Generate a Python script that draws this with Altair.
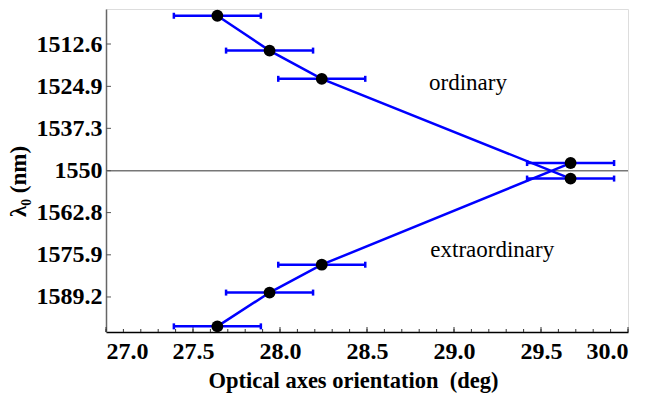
import altair as alt
import pandas as pd
import numpy as np

C = 299792.458  # nm*THz

# ---- data ----
ord_x = [27.64, 27.94, 28.24, 29.67]
ord_lam = [1504.5, 1514.5, 1522.7, 1552.4]
ord_err = [0.25, 0.25, 0.25, 0.25]

ext_x = [29.67, 28.24, 27.94, 27.64]
ext_lam = [1547.7, 1579.0, 1587.8, 1598.6]
ext_err = [0.25, 0.25, 0.25, 0.25]

y_tick_lam = [1512.6, 1524.9, 1537.3, 1550, 1562.8, 1575.9, 1589.2]
x_major = [27.0, 27.5, 28.0, 28.5, 29.0, 29.5, 30.0]
x_minor = [round(v, 1) for v in np.arange(27.0, 30.0001, 0.1)]

ref_lam = [1550]
label_text = ["ordinary", "extraordinary"]
label_x = [29.08, 29.22]
label_lam = [1523.9, 1574.5]

# ---- tables ----
rows = []
for i, (x, l, e) in enumerate(zip(ord_x, ord_lam, ord_err)):
    rows.append({"series": "ordinary", "x": x, "lam": l, "err": e, "o": i})
for i, (x, l, e) in enumerate(zip(ext_x, ext_lam, ext_err)):
    rows.append({"series": "extraordinary", "x": x, "lam": l, "err": e, "o": i})
df = pd.DataFrame(rows)

y_tick_freq = [C / v for v in y_tick_lam]
f_top = 199.519
f_bot = 187.321

W, H = 522, 323
FONT = "Liberation Serif, 'Times New Roman', Times, serif"

xs = alt.Scale(domain=[27.0, 30.0], nice=False, zero=False)
ys = alt.Scale(domain=[f_bot, f_top], nice=False, zero=False)

BLUE = "#0000ff"

base = alt.Chart(df).transform_calculate(
    f=f"{C}/datum.lam", xlo="datum.x - datum.err", xhi="datum.x + datum.err"
)

xaxis = alt.Axis(
    values=x_major, format=".1f", ticks=False, grid=False,
    labelFont=FONT, labelFontSize=24, labelFontWeight="bold", labelColor="black",
    labelPadding=7, title="Optical axes orientation\u00a0 (deg)", titleFont=FONT,
    titleFontSize=22.5, titleFontWeight="bold", titleColor="black", titlePadding=6,
    titleX=247, titleAlign="center",
    domainColor="black", domainWidth=1.5,
)
yaxis = alt.Axis(
    values=y_tick_freq,
    labelExpr=f"abs({C}/datum.value - 1550) < 0.01 ? '1550' : format({C}/datum.value, '.1f')",
    ticks=False, grid=False,
    labelFont=FONT, labelFontSize=24, labelFontWeight="bold", labelColor="black",
    labelPadding=4, title="λ₀ (nm)", titleFont=FONT, titleFontSize=23,
    titleFontWeight="bold", titleColor="black", titlePadding=6,
    titleY=172, titleAlign="center",
    domainColor="#666666", domainWidth=1.5,
)

lines = base.mark_line(color=BLUE, strokeWidth=2.5).encode(
    x=alt.X("x:Q", scale=xs, axis=xaxis),
    y=alt.Y("f:Q", scale=ys, axis=yaxis),
    detail="series:N",
)

bars = base.mark_rule(color=BLUE, strokeWidth=2.5).encode(
    x=alt.X("xlo:Q", scale=xs), x2="xhi:Q", y=alt.Y("f:Q", scale=ys)
)
cap_lo = base.mark_tick(color=BLUE, orient="vertical", size=6, thickness=2.5, opacity=1).encode(
    x=alt.X("xlo:Q", scale=xs), y=alt.Y("f:Q", scale=ys)
)
cap_hi = base.mark_tick(color=BLUE, orient="vertical", size=6, thickness=2.5, opacity=1).encode(
    x=alt.X("xhi:Q", scale=xs), y=alt.Y("f:Q", scale=ys)
)

points = base.mark_circle(size=140, color="black", opacity=1).encode(
    x=alt.X("x:Q", scale=xs), y=alt.Y("f:Q", scale=ys)
)

ref = alt.Chart(pd.DataFrame({"lam": ref_lam})).transform_calculate(
    f=f"{C}/datum.lam"
).mark_rule(color="#777777", strokeWidth=1.5).encode(y=alt.Y("f:Q", scale=ys))

labels = alt.Chart(pd.DataFrame({"t": label_text, "x": label_x, "lam": label_lam})).transform_calculate(
    f=f"{C}/datum.lam"
).mark_text(font=FONT, fontSize=23, color="black").encode(
    x=alt.X("x:Q", scale=xs), y=alt.Y("f:Q", scale=ys), text="t:N"
)

# inward ticks
ytk = alt.Chart(pd.DataFrame({"lam": y_tick_lam})).transform_calculate(
    f=f"{C}/datum.lam"
).mark_rule(color="#555555", strokeWidth=1).encode(
    y=alt.Y("f:Q", scale=ys), x=alt.value(0), x2=alt.value(5)
)
xtk_major = alt.Chart(pd.DataFrame({"x": x_major})).mark_rule(color="#333333", strokeWidth=1).encode(
    x=alt.X("x:Q", scale=xs), y=alt.value(H), y2=alt.value(H - 5)
)
xtk_minor = alt.Chart(pd.DataFrame({"x": x_minor})).mark_rule(color="#333333", strokeWidth=1).encode(
    x=alt.X("x:Q", scale=xs), y=alt.value(H), y2=alt.value(H - 3)
)

chart = alt.layer(
    ref, xtk_minor, xtk_major, ytk, lines, bars, cap_lo, cap_hi, points, labels
).properties(
    width=W, height=H,
    autosize=alt.AutoSizeParams(type="none"),
    padding={"left": 106, "top": 9, "right": 25, "bottom": 61},
).configure_view(stroke="#444444", strokeWidth=1.5).configure(background="white")

chart.save("out.html", embed_options={"renderer": "svg", "actions": False})
